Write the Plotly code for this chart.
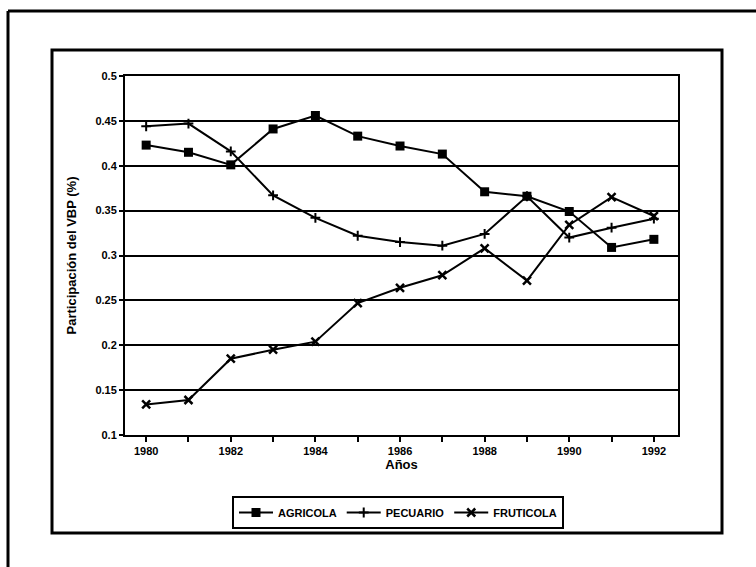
import plotly.graph_objects as go

years = list(range(1980, 1993))
agricola = [0.423, 0.415, 0.401, 0.441, 0.456, 0.433, 0.422, 0.413, 0.371, 0.366, 0.349, 0.309, 0.318]
pecuario = [0.444, 0.447, 0.416, 0.367, 0.342, 0.322, 0.315, 0.311, 0.324, 0.366, 0.320, 0.331, 0.341]
fruticola = [0.134, 0.139, 0.185, 0.195, 0.204, 0.247, 0.264, 0.278, 0.308, 0.272, 0.334, 0.365, 0.344]
y_ticks = [0.1, 0.15, 0.2, 0.25, 0.3, 0.35, 0.4, 0.45, 0.5]
x_ticks = [1980, 1982, 1984, 1986, 1988, 1990, 1992]

W, H = 756, 567
L, R, T, B = 125, 678, 76, 435
FONT = "Liberation Sans"

def px(x):
    return (x - L) / (R - L)

def py(y):
    return (B - y) / (B - T)

fig = go.Figure()
fig.add_trace(go.Scatter(x=years, y=agricola, name="AGRICOLA", mode="lines+markers",
                         line=dict(color="black", width=2),
                         marker=dict(symbol="square", size=9, color="black")))
fig.add_trace(go.Scatter(x=years, y=pecuario, name="PECUARIO", mode="lines+markers",
                         line=dict(color="black", width=2),
                         marker=dict(symbol="cross-thin-open", size=7, color="black",
                                     line=dict(width=2, color="black"))))
fig.add_trace(go.Scatter(x=years, y=fruticola, name="FRUTICOLA", mode="lines+markers",
                         line=dict(color="black", width=2),
                         marker=dict(symbol="x-thin-open", size=8, color="black",
                                     line=dict(width=2.5, color="black"))))

shapes = [
    # outer frame (left + top edges)
    dict(type="line", xref="paper", yref="paper", x0=px(8), x1=px(760), y0=py(11), y1=py(11),
         line=dict(color="black", width=3)),
    dict(type="line", xref="paper", yref="paper", x0=px(8), x1=px(8), y0=py(11), y1=py(570),
         line=dict(color="black", width=3)),
    # chart box
    dict(type="rect", xref="paper", yref="paper", x0=px(52), x1=px(722), y0=py(50), y1=py(533),
         line=dict(color="black", width=3)),
]

fig.update_layout(
    width=W, height=H,
    margin=dict(l=L, r=W - R, t=T, b=H - B),
    paper_bgcolor="white", plot_bgcolor="white",
    font=dict(family=FONT, color="black", size=11),
    shapes=shapes,
    showlegend=True,
    legend=dict(orientation="h", x=px(398), xanchor="center", y=py(496), yanchor="top",
                bordercolor="black", borderwidth=2, bgcolor="white",
                font=dict(family=FONT, size=11, color="black", weight="bold"),
                itemwidth=34, tracegroupgap=0),
    xaxis=dict(range=[1979.5, 1992.57], tickvals=x_ticks, ticktext=[str(v) for v in x_ticks],
               showgrid=False, showline=True, linecolor="black", linewidth=2, mirror=True,
               ticks="outside", ticklen=5, tickwidth=1.5, tickcolor="black",
               minor=dict(tickvals=years, ticks="outside", ticklen=5, tickwidth=1.5, tickcolor="black"),
               tickfont=dict(family=FONT, size=11, weight="bold"),
               title=dict(text="Años", font=dict(family=FONT, size=13, weight="bold"), standoff=4),
               zeroline=False),
    yaxis=dict(range=[0.1, 0.5], tickvals=y_ticks, ticktext=[str(v) for v in y_ticks],
               showgrid=True, gridcolor="black", gridwidth=2,
               showline=True, linecolor="black", linewidth=2, mirror=True,
               ticks="outside", ticklen=4, tickwidth=1.5, tickcolor="black",
               tickfont=dict(family=FONT, size=11, weight="bold"),
               title=dict(text="Participación del VBP (%)", font=dict(family=FONT, size=13, weight="bold"),
                          standoff=16),
               zeroline=False),
)

fig.write_html("out.html", config={"displayModeBar": False},
               post_script="document.body.style.margin='0';document.body.style.overflow='hidden';")
